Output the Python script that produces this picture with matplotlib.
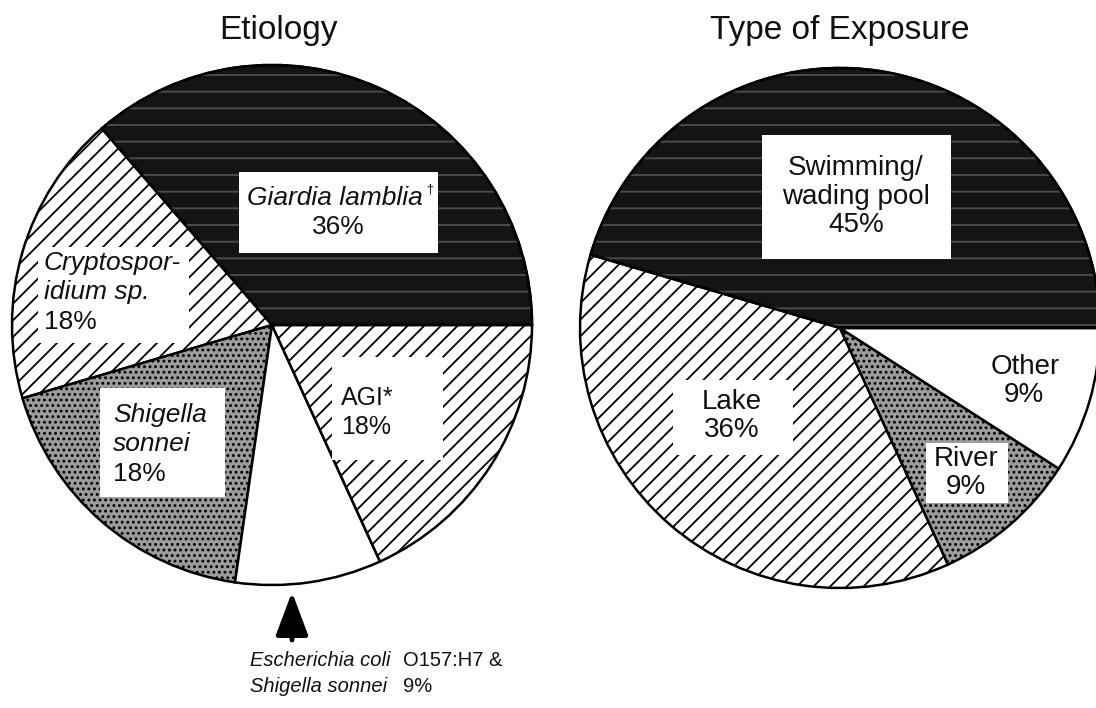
import matplotlib
matplotlib.use("Agg")
import matplotlib.pyplot as plt
from matplotlib.patches import Rectangle, Wedge
from matplotlib import font_manager

plt.rcParams['font.family'] = ['Liberation Sans', 'DejaVu Sans']
plt.rcParams['hatch.linewidth'] = 1.3

# ---- data ----
etiology_categories = ["Giardia lamblia", "Cryptosporidium sp.", "Shigella sonnei",
                       "Escherichia coli O157:H7 & Shigella sonnei", "AGI*"]
etiology_values = [36, 18, 18, 9, 18]
exposure_categories = ["Swimming/wading pool", "Lake", "River", "Other"]
exposure_values = [45, 36, 9, 9]

W, H = 1096, 708
fig = plt.figure(figsize=(W / 100, H / 100), dpi=100)
ax = fig.add_axes([0, 0, 1, 1])

installed = {f.name for f in font_manager.fontManager.ttflist}
narrow = 'Liberation Sans Narrow' if 'Liberation Sans Narrow' in installed else 'Liberation Sans'
narrow_size = 16 if narrow == 'Liberation Sans Narrow' else 14.5


def Y(y):
    return H - y


# ---- styles ----
et_face = ['#141414', 'white', '#9c9c9c', 'white', 'white']
et_hatch = [None, '//', '...', None, '//']
ex_face = ['#141414', 'white', '#9c9c9c', 'white']
ex_hatch = [None, '//', '...', None]

w1, _ = ax.pie(etiology_values, center=(272, Y(325)), radius=260, startangle=0,
               counterclock=True, colors=et_face,
               wedgeprops=dict(edgecolor='black', linewidth=1.8))
for w, h in zip(w1, et_hatch):
    if h:
        w.set_hatch(h)

w2, _ = ax.pie(exposure_values, center=(840, Y(328)), radius=260, startangle=0,
               counterclock=True, colors=ex_face,
               wedgeprops=dict(edgecolor='black', linewidth=1.8))
for w, h in zip(w2, ex_hatch):
    if h:
        w.set_hatch(h)

# faint white streaks on the black slices
for w in (w1[0], w2[0]):
    ov = Wedge(w.center, w.r, w.theta1, w.theta2, facecolor='none',
               edgecolor=(1, 1, 1, 0.25), linewidth=0, hatch='-')
    ax.add_patch(ov)
    ov2 = Wedge(w.center, w.r, w.theta1, w.theta2, facecolor='none',
                edgecolor='black', linewidth=1.8)
    ax.add_patch(ov2)

ax.set_xlim(0, W)
ax.set_ylim(0, H)
ax.axis('off')


def box(x0, y0, x1, y1):
    ax.add_patch(Rectangle((x0, Y(y1)), x1 - x0, y1 - y0, facecolor='white',
                           edgecolor='none', zorder=3))


def txt(x, y, s, ha='center', italic=False, size=19, family=None):
    ax.text(x, Y(y), s, ha=ha, va='center', fontsize=size,
            style='italic' if italic else 'normal', zorder=4, color='#111111',
            family=family if family else ['Liberation Sans', 'DejaVu Sans'])


# titles
txt(278, 30, "Etiology", size=24)
txt(840, 30, "Type of Exposure", size=24)

# ---- Etiology labels ----
box(239, 172, 438, 253)
txt(335, 198, "Giardia lamblia", italic=True)
ax.text(430, Y(190), "†", fontsize=9, ha='center', va='center', zorder=4)
txt(338, 227, f"{etiology_values[0]}%")

box(38, 247, 189, 343)
txt(44, 263, "Cryptospor-", ha='left', italic=True)
txt(44, 292, "idium sp.", ha='left', italic=True)
txt(44, 322, f"{etiology_values[1]}%", ha='left')

box(100, 388, 225, 497)
txt(113, 415, "Shigella", ha='left', italic=True)
txt(113, 444, "sonnei", ha='left', italic=True)
txt(113, 474, f"{etiology_values[2]}%", ha='left')

box(332, 357, 443, 460)
txt(341, 398, "AGI*", ha='left', size=18)
txt(341, 427, f"{etiology_values[4]}%", ha='left', size=18)

ax.annotate('', xy=(292, Y(592)), xytext=(292, Y(640)),
            arrowprops=dict(arrowstyle='-|>,head_length=1.2,head_width=0.45',
                            lw=3.5, color='black', mutation_scale=22,
                            shrinkA=0, shrinkB=0))
nf = [narrow, 'DejaVu Sans']
txt(250, 660, "Escherichia coli", ha='left', italic=True, size=narrow_size, family=nf)
txt(403, 660, "O157:H7 &", ha='left', size=narrow_size, family=nf)
txt(250, 687, "Shigella sonnei", ha='left', italic=True, size=narrow_size, family=nf)
txt(403, 687, f"{etiology_values[3]}%", ha='left', size=narrow_size, family=nf)

# ---- Exposure labels ----
box(762, 135, 951, 259)
txt(856, 168, "Swimming/", size=20)
txt(856, 197, "wading pool", size=20)
txt(856, 225, f"{exposure_values[0]}%", size=20)

box(673, 380, 793, 455)
txt(732, 402, "Lake", size=20)
txt(732, 430, f"{exposure_values[1]}%", size=20)

box(926, 443, 1008, 503)
txt(966, 459, "River", size=20)
txt(966, 487, f"{exposure_values[2]}%", size=20)

txt(1025, 367, "Other", size=20)
txt(1024, 395, f"{exposure_values[3]}%", size=20)

fig.savefig("out.png", dpi=100, facecolor='white')
